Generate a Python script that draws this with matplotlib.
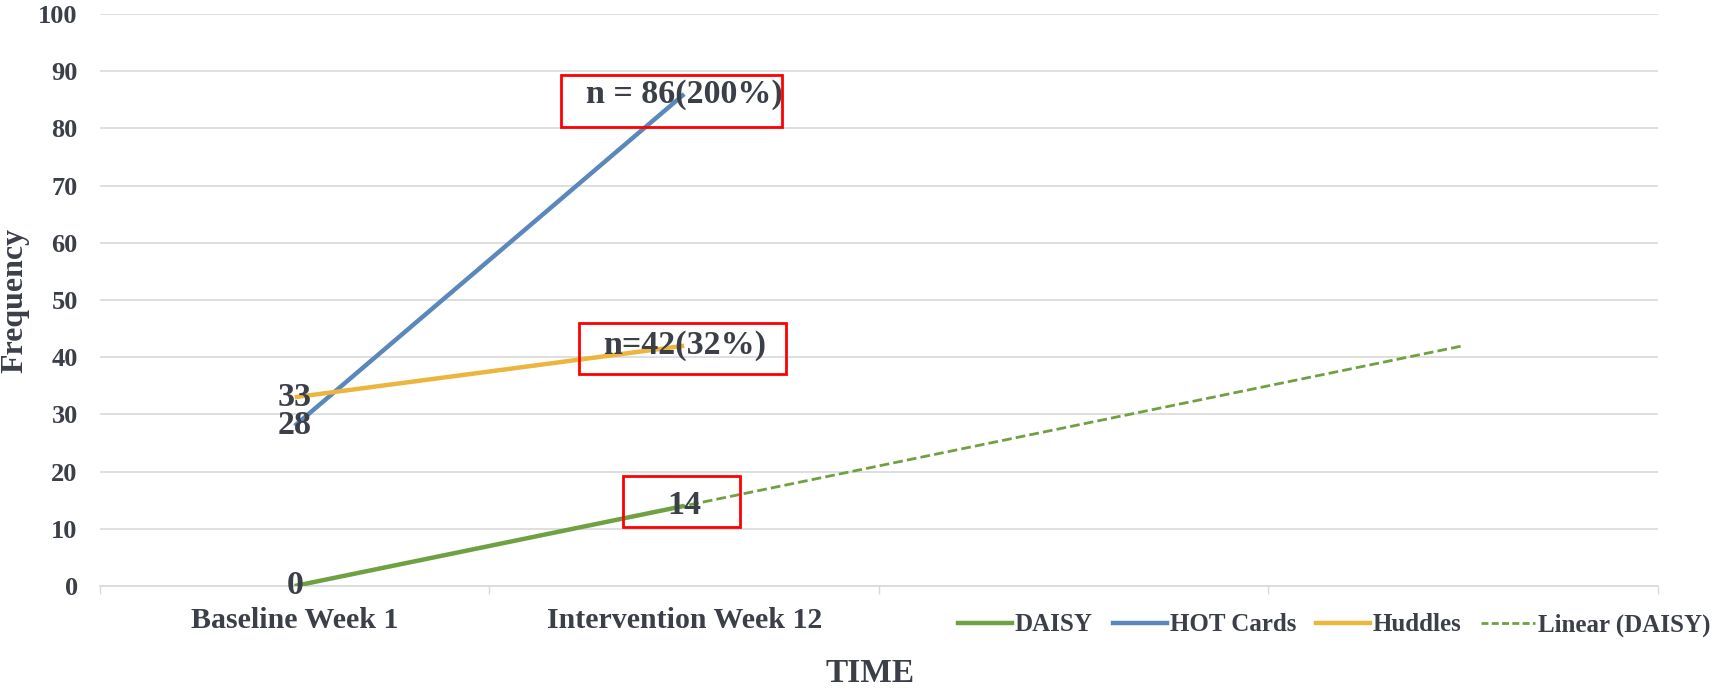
import matplotlib
matplotlib.use('Agg')
import matplotlib.pyplot as plt
import matplotlib.patches as patches
from matplotlib.lines import Line2D

# data
categories = ['Baseline Week 1', 'Intervention Week 12', '', '']
daisy = [0, 14]
hot_cards = [28, 86]
huddles = [33, 42]
daisy_trend = [0, 14, 28, 42]

daisy_labels = ['0', '14']
hot_labels = ['28', 'n = 86(200%)']
huddle_labels = ['33', 'n=42(32%)']

COLORS = {
    'daisy': '#6FA042',
    'hot': '#5A88BA',
    'huddles': '#EBB53E',
    'text': '#3B3F48',
    'grid': '#D9D9D9',
}

plt.rcParams['font.family'] = ['Liberation Serif', 'DejaVu Serif']
plt.rcParams['font.weight'] = 'bold'

fig = plt.figure(figsize=(17.35, 6.89), dpi=100)
ax = fig.add_axes([0.0576, 0.1495, 0.898, 0.8302])

x_all = list(range(len(categories)))
ax.plot(x_all[:2], daisy, color=COLORS['daisy'], lw=3.2, solid_capstyle='butt', zorder=3)
ax.plot(x_all[:2], hot_cards, color=COLORS['hot'], lw=3.2, solid_capstyle='butt', zorder=3)
ax.plot(x_all[:2], huddles, color=COLORS['huddles'], lw=3.2, solid_capstyle='butt', zorder=3)
ax.plot(x_all, daisy_trend, color=COLORS['daisy'], lw=2.0, ls=(0, (3.5, 1.5)), zorder=2)

# data labels
for xs, ys, labels in [(x_all, daisy, daisy_labels),
                       (x_all, hot_cards, hot_labels),
                       (x_all, huddles, huddle_labels)]:
    for x, y, lab in zip(xs, ys, labels):
        ax.text(x, y, lab, ha='center', va='center', fontsize=24.5,
                fontweight='bold', color=COLORS['text'], zorder=5)

# red highlight boxes
for (bx, by, bw, bh) in [(0.684, 80.2, 0.568, 9.1),
                         (0.730, 37.1, 0.532, 8.9),
                         (0.843, 10.3, 0.301, 8.9)]:
    ax.add_patch(patches.Rectangle((bx, by), bw, bh, fill=False,
                                   edgecolor='#FF0000', linewidth=2, zorder=6))

ax.set_xlim(-0.5, 3.5)
ax.set_ylim(0, 100)
ax.set_yticks(range(0, 101, 10))
ax.set_xticks(x_all)
ax.set_xticklabels(categories)
ax.set_xticks([i - 0.5 for i in range(len(categories) + 1)], minor=True)
ax.tick_params(axis='x', which='major', length=0, pad=15, labelsize=21.5,
               labelcolor=COLORS['text'])
ax.tick_params(axis='x', which='minor', length=6, width=1, color=COLORS['grid'])
ax.tick_params(axis='y', length=0, pad=16, labelsize=19, labelcolor=COLORS['text'])
for lab in ax.get_xticklabels() + ax.get_yticklabels():
    lab.set_fontweight('bold')

ax.grid(axis='y', color=COLORS['grid'], linewidth=1.2)
ax.set_axisbelow(True)
for side in ['top', 'right', 'left']:
    ax.spines[side].set_visible(False)
ax.spines['bottom'].set_color(COLORS['grid'])
ax.spines['bottom'].set_linewidth(1.2)

fig.text(0.0085, 1 - 300 / 689, 'Frequency', rotation=90, ha='center', va='center',
         fontsize=23, fontweight='bold', color=COLORS['text'])
fig.text(870 / 1735, 1 - 673 / 689, 'TIME', ha='center', va='center',
         fontsize=24, fontweight='bold', color=COLORS['text'])

handles = [
    Line2D([], [], color=COLORS['daisy'], lw=3.2),
    Line2D([], [], color=COLORS['hot'], lw=3.2),
    Line2D([], [], color=COLORS['huddles'], lw=3.2),
    Line2D([], [], color=COLORS['daisy'], lw=2, ls=(0, (2.5, 1.2))),
]
leg = fig.legend(handles, ['DAISY', 'HOT Cards', 'Huddles', 'Linear (DAISY)'],
                 loc='center left', bbox_to_anchor=(958 / 1735, 1 - 625 / 689),
                 ncol=4, frameon=False, fontsize=18, handlelength=2.15,
                 handletextpad=0.12, columnspacing=0.8, borderpad=0,
                 borderaxespad=0)
for t in leg.get_texts():
    t.set_color(COLORS['text'])
    t.set_fontweight('bold')

fig.savefig('out.png', dpi=100)
